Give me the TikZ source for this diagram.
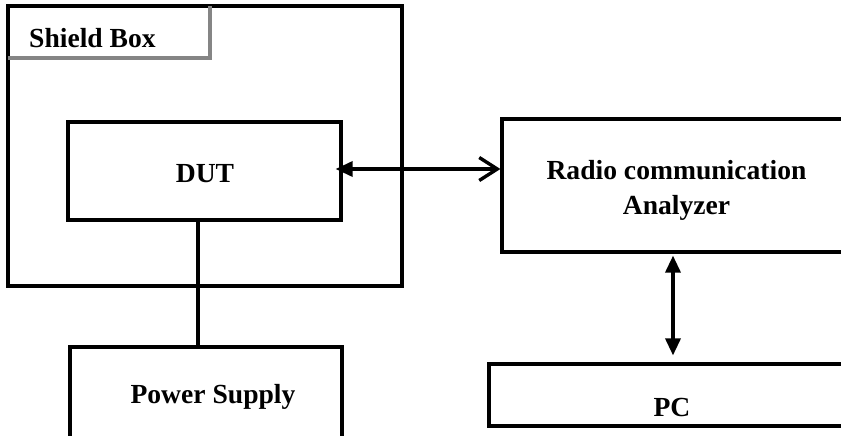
\documentclass[tikz,border=0pt]{standalone}
\usepackage{fontspec}
\setmainfont{Liberation Serif}
\usetikzlibrary{arrows.meta}
\tikzset{
  boxline/.style={draw=black, line width=3.2pt},
  blk/.style={boxline, minimum width=#1, inner sep=0pt},
  lbl/.style={font=\fontsize{27.6}{35}\selectfont\bfseries, inner sep=0pt},
  conn/.style={line width=3.4pt},
  filltip/.tip={Triangle[length=17pt,width=15pt]},
  opentip/.tip={Straight Barb[length=18pt,width=23pt,line width=3.4pt]}
}
\begin{document}
\begin{tikzpicture}[x=1pt,y=-1pt]
\useasboundingbox (0,0) rectangle (841,436);
% boxes
\node[blk=394pt, minimum height=280pt] (shield) at (205,146) {};
\node[blk=273pt, minimum height=98pt] (dut) at (204.5,171) {};
\node[blk=349pt, minimum height=133pt] (ana) at (676.5,185.5) {};
\node[blk=272pt, minimum height=96pt] (ps) at (206,395) {};
\node[blk=366pt, minimum height=62pt] (pc) at (672,395) {};
% shield box label frame
\coordinate (lbA) at (8,58);
\coordinate (lbB) at (210,58);
\coordinate (lbC) at (210,6);
\draw[line width=3.4pt, draw=black!48] (lbA) -- (lbB) -- (lbC);
% texts
\node[lbl, anchor=base west] (tshield) at (29,48) {Shield Box};
\node[lbl, anchor=base] (tdut) at (205,182) {DUT};
\node[lbl, anchor=base] (tana1) at (676.5,179) {Radio communication};
\node[lbl, anchor=base] (tana2) at (676.5,214) {Analyzer};
\node[lbl, anchor=base] (tps) at (213,403) {Power Supply};
\node[lbl, anchor=base] (tpc) at (672,416) {PC};
% connectors
\coordinate (hy) at (0,169);
\coordinate (px) at (198,0);
\coordinate (vx) at (673,0);
\draw[conn, {filltip}-{opentip}] ([xshift=-7pt]dut.east |- hy) -- (ana.west |- hy);
\draw[conn] (dut.south -| px) -- (ps.north -| px);
\draw[conn, {filltip}-{filltip}] ([yshift=-2pt]ana.south -| vx) -- ([yshift=7pt]pc.north -| vx);
\end{tikzpicture}
\end{document}
